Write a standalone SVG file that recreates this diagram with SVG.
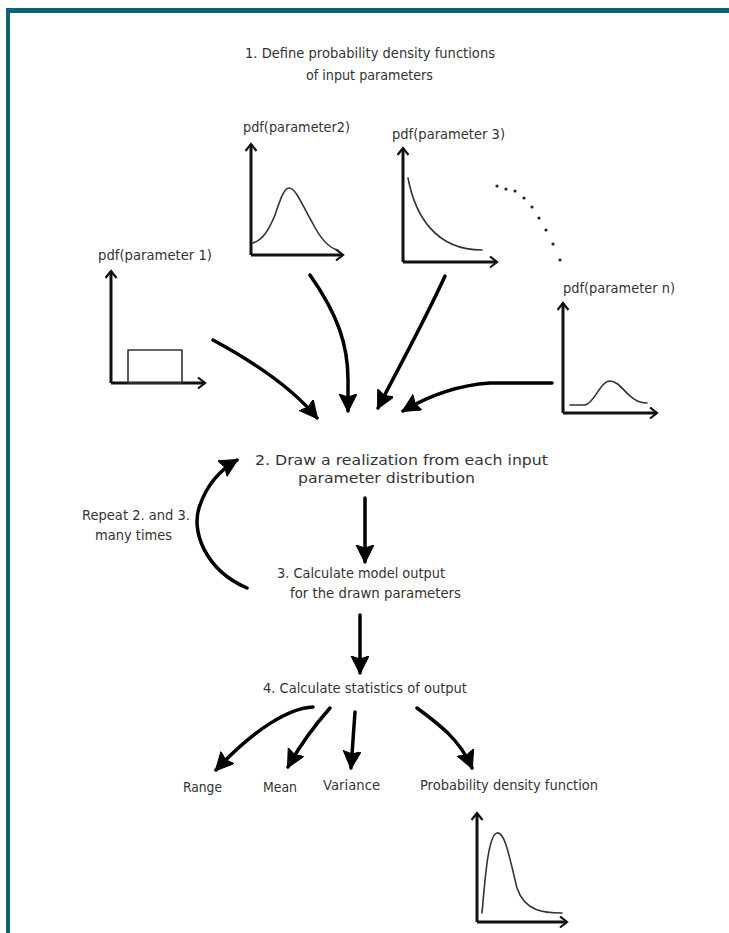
<svg xmlns="http://www.w3.org/2000/svg" width="729" height="933" viewBox="0 0 729 933">
<style>
.t{font-family:"DejaVu Sans","Liberation Sans",sans-serif;font-size:14.5px;fill:#333}
.ax{fill:none;stroke:#111;stroke-width:3;marker-end:url(#open)}
.cv{fill:none;stroke:#333;stroke-width:1.6;stroke-linejoin:round;stroke-linecap:round}
.cn{fill:none;stroke:#000;stroke-width:3.5;stroke-linecap:round;marker-end:url(#ah)}
</style>
<defs>
<marker id="ah" markerUnits="userSpaceOnUse" markerWidth="22" markerHeight="22" refX="17" refY="9" orient="auto">
<path d="M0,0 L18,9 L0,18 L3,9 z" fill="#000" stroke="#000" stroke-width="1" stroke-linejoin="round"/>
</marker>
<marker id="open" markerUnits="userSpaceOnUse" markerWidth="14" markerHeight="14" refX="8" refY="6" orient="auto">
<path d="M1,0.5 L8,6 L1,11.5" fill="none" stroke="#111" stroke-width="2.2"/>
</marker>
</defs>
<rect width="729" height="933" fill="#fff"/>
<g id="frame">
<rect x="6" y="8" width="723" height="5" fill="#0d6477"/>
<rect x="6" y="8" width="4" height="925" fill="#0d6477"/>
</g>
<g id="step1">
<text class="t" x="245" y="58" textLength="250" lengthAdjust="spacingAndGlyphs">1. Define probability density functions</text>
<text class="t" x="306" y="80" textLength="127" lengthAdjust="spacingAndGlyphs">of input parameters</text>
</g>
<g id="pdf1">
<text class="t" x="98" y="260" textLength="114" lengthAdjust="spacingAndGlyphs">pdf(parameter 1)</text>
<path class="ax" d="M111,383 L111,271"/>
<path class="ax" d="M111,383 L205,383"/>
<rect x="128" y="350" width="54" height="33" class="cv"/>
</g>
<g id="pdf2">
<text class="t" x="243" y="132" textLength="107" lengthAdjust="spacingAndGlyphs">pdf(parameter2)</text>
<path class="ax" d="M251,255 L251,144"/>
<path class="ax" d="M251,255 L343,255"/>
<path class="cv" d="M253,243 C262,240 268,232 275,215 C280,200 284,188 289,188 C296,188 302,205 312,222 C320,238 328,248 338,250"/>
</g>
<g id="pdf3">
<text class="t" x="392" y="139" textLength="113" lengthAdjust="spacingAndGlyphs">pdf(parameter 3)</text>
<path class="ax" d="M403,262 L403,148"/>
<path class="ax" d="M403,262 L497,262"/>
<path class="cv" d="M408,178 C415,215 435,250 482,250"/>
</g>
<g id="dots" fill="#222">
<circle cx="497" cy="186" r="1.6"/><circle cx="506" cy="189" r="1.6"/><circle cx="515" cy="191" r="1.6"/>
<circle cx="524" cy="198" r="1.6"/><circle cx="532" cy="207" r="1.6"/><circle cx="539" cy="218" r="1.6"/>
<circle cx="546" cy="230" r="1.6"/><circle cx="553" cy="244" r="1.6"/><circle cx="560" cy="260" r="1.6"/>
</g>
<g id="pdfn">
<text class="t" x="563" y="293" textLength="112" lengthAdjust="spacingAndGlyphs">pdf(parameter n)</text>
<path class="ax" d="M563,413 L563,303"/>
<path class="ax" d="M563,413 L657,413"/>
<path class="cv" d="M570,405 L585,405 C595,403 600,381 610,381 C622,381 628,403 647,403"/>
</g>
<g id="step2">
<text class="t" x="255" y="465" textLength="293" lengthAdjust="spacingAndGlyphs">2. Draw a realization from each input</text>
<text class="t" x="298" y="483" textLength="177" lengthAdjust="spacingAndGlyphs">parameter distribution</text>
</g>
<g id="repeat">
<text class="t" x="82" y="520" textLength="108" lengthAdjust="spacingAndGlyphs">Repeat 2. and 3.</text>
<text class="t" x="95" y="540" textLength="77" lengthAdjust="spacingAndGlyphs">many times</text>
</g>
<g id="step3">
<text class="t" x="277" y="578" textLength="168" lengthAdjust="spacingAndGlyphs">3. Calculate model output</text>
<text class="t" x="290" y="598" textLength="171" lengthAdjust="spacingAndGlyphs">for the drawn parameters</text>
</g>
<g id="step4">
<text class="t" x="263" y="693" textLength="204" lengthAdjust="spacingAndGlyphs">4. Calculate statistics of output</text>
</g>
<g id="range"><text class="t" x="183" y="792" textLength="39" lengthAdjust="spacingAndGlyphs">Range</text></g>
<g id="mean"><text class="t" x="263" y="792" textLength="34" lengthAdjust="spacingAndGlyphs">Mean</text></g>
<g id="variance"><text class="t" x="323" y="790" textLength="57" lengthAdjust="spacingAndGlyphs">Variance</text></g>
<g id="pdfout">
<text class="t" x="420" y="790" textLength="178" lengthAdjust="spacingAndGlyphs">Probability density function</text>
<path class="ax" d="M477,922 L477,813"/>
<path class="ax" d="M477,922 L567,922"/>
<path class="cv" d="M482,913 C485,880 488,835 497,833 C505,831 510,860 517,888 C525,912 545,913 562,913"/>
</g>
<g id="connectors">
<path class="cn" d="M213,340 C250,360 290,385 317,418"/>
<path class="cn" d="M310,275 C338,315 348,345 348,380 L348,411"/>
<path class="cn" d="M445,276 C425,320 400,365 378,408"/>
<path class="cn" d="M552,383 L490,383 C460,385 430,395 403,411"/>
<path class="cn" d="M365,498 L365,562"/>
<path class="cn" d="M247,588 C205,570 190,530 200,505 C207,485 220,470 237,460"/>
<path class="cn" d="M360,615 L360,673"/>
<path class="cn" d="M313,707 C290,708 255,728 216,770"/>
<path class="cn" d="M330,708 C315,725 300,745 288,767"/>
<path class="cn" d="M355,712 L351,768"/>
<path class="cn" d="M417,708 C440,725 460,740 472,768"/>
</g>
</svg>
